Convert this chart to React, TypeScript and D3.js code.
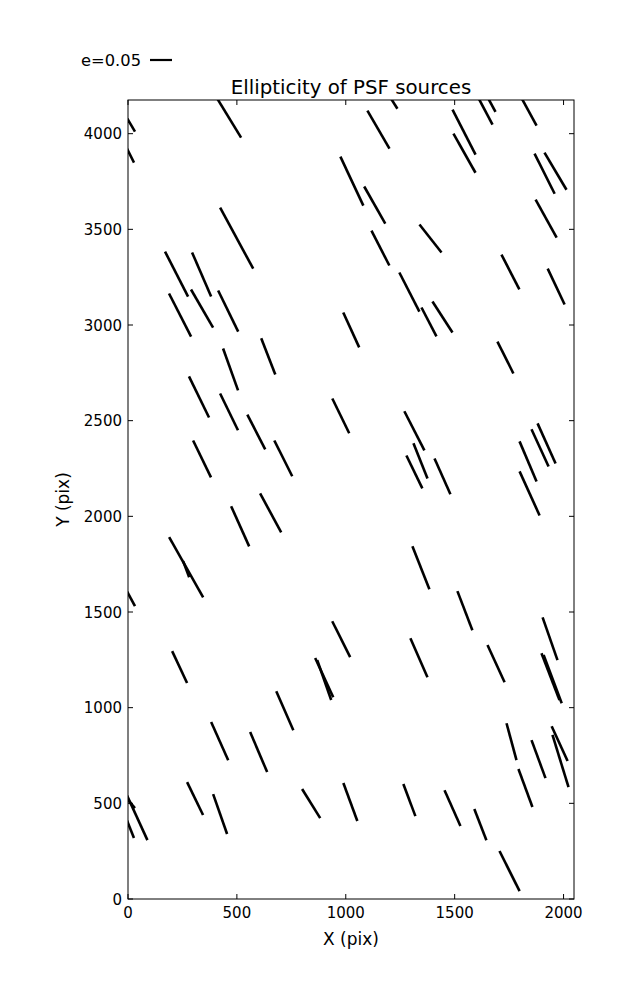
import React from "react";
import * as d3 from "d3";

// Whisker data: centre (X, Y in pix), ellipticity E, position angle THETA (deg, display frame)
const X = [0, 0, 462, 499, 223, 338, 239, 340, 460, 1214, 1150, 1028, 1133, 1389, 1159, 1292, 1543, 1545, 1635, 1660, 1835, 1913, 1963, 1920, 1756, 1966, 644, 471, 326, 464, 589, 340, 713, 655, 1025, 977, 1382, 1444, 1315, 1343, 1315, 1444, 1733, 1837, 1892, 1922, 1844, 267, 267, 515, 0, 237, 1345, 979, 1336, 901, 901, 720, 1547, 1938, 1690, 1940, 1950, 421, 600, 308, 423, 41, 0, 0, 841, 1021, 1292, 1761, 1885, 1982, 1986, 1825, 1490, 1618, 1752];
const Y = [4073, 3911, 4086, 3454, 3266, 3264, 3052, 3086, 3073, 4172, 4021, 3752, 3627, 3452, 3402, 3172, 4008, 3898, 4131, 4172, 4128, 3791, 3804, 3556, 3277, 3201, 2836, 2768, 2624, 2546, 2441, 2300, 2303, 2018, 2974, 2525, 3016, 3042, 2447, 2290, 2232, 2209, 2830, 2287, 2358, 2381, 2120, 1734, 1724, 1948, 1598, 1212, 1731, 1358, 1261, 1157, 1144, 984, 1507, 1360, 1230, 1162, 1149, 825, 768, 525, 444, 428, 517, 397, 499, 507, 517, 822, 731, 812, 721, 580, 475, 389, 146];
const E = [0.063, 0.061, 0.109, 0.158, 0.115, 0.109, 0.110, 0.100, 0.104, 0.043, 0.100, 0.123, 0.097, 0.081, 0.089, 0.100, 0.115, 0.102, 0.082, 0.057, 0.085, 0.102, 0.098, 0.099, 0.089, 0.090, 0.088, 0.101, 0.104, 0.093, 0.089, 0.093, 0.091, 0.101, 0.087, 0.088, 0.074, 0.084, 0.100, 0.086, 0.083, 0.089, 0.081, 0.099, 0.093, 0.100, 0.110, 0.157, 0.039, 0.100, 0.067, 0.080, 0.105, 0.091, 0.097, 0.098, 0.096, 0.097, 0.095, 0.103, 0.093, 0.114, 0.117, 0.095, 0.099, 0.083, 0.096, 0.115, 0.048, 0.073, 0.078, 0.092, 0.078, 0.087, 0.092, 0.087, 0.124, 0.092, 0.089, 0.076, 0.102];
const THETA = [-59.7, -63.4, -58.6, -61.6, -62.9, -66.6, -62.9, -59.9, -64.0, -58.0, -59.9, -64.9, -60.4, -51.8, -62.8, -62.9, -62.9, -60.6, -62.0, -61.4, -61.4, -63.4, -59.3, -61.1, -62.8, -64.7, -68.7, -70.3, -64.0, -64.1, -62.8, -64.1, -63.4, -61.7, -65.4, -64.1, -62.6, -57.2, -62.9, -68.2, -64.1, -66.0, -63.4, -67.0, -65.3, -65.8, -65.6, -60.5, -69.4, -65.8, -61.7, -64.9, -68.4, -63.4, -66.4, -65.2, -70.7, -66.4, -69.0, -70.8, -65.3, -69.0, -69.4, -65.9, -67.0, -64.1, -70.7, -65.5, -48.8, -68.2, -58.2, -69.8, -69.4, -74.9, -69.8, -65.4, -72.9, -69.8, -66.0, -68.8, -63.4];

const X_TICKS = [0, 500, 1000, 1500, 2000];
const Y_TICKS = [0, 500, 1000, 1500, 2000, 2500, 3000, 3500, 4000];
const KEY_E = 0.05;
const KEY_LABEL = "e=0.05";
const TITLE = "Ellipticity of PSF sources";
const X_LABEL = "X (pix)";
const Y_LABEL = "Y (pix)";

export default function App() {
  const W = 637, H = 1000;
  const L = 128, R = 574, T = 100, B = 899;
  const x = d3.scaleLinear().domain([0, 2048]).range([L, R]);
  const y = d3.scaleLinear().domain([0, 4176]).range([B, T]);
  const keyPx = 22;
  const pxPerE = keyPx / KEY_E;
  const font = "DejaVu Sans, sans-serif";
  const tick = 5;

  const segs = X.map((xv, i) => {
    const cx = x(xv), cy = y(Y[i]);
    const half = (E[i] * pxPerE) / 2;
    const a = (THETA[i] * Math.PI) / 180;
    const dx = half * Math.cos(a), dy = -half * Math.sin(a);
    return { x1: cx - dx, y1: cy - dy, x2: cx + dx, y2: cy + dy };
  });

  return (
    <svg width={W} height={H} style={{ position: "absolute", left: 0, top: 0, background: "#fff" }}>
      <defs>
        <clipPath id="plotclip">
          <rect x={L} y={T} width={R - L} height={B - T} />
        </clipPath>
      </defs>
      <rect x={0} y={0} width={W} height={H} fill="#fff" />
      <g clipPath="url(#plotclip)">
        {segs.map((s, i) => (
          <line key={i} x1={s.x1} y1={s.y1} x2={s.x2} y2={s.y2} stroke="#000" strokeWidth={2.6} />
        ))}
      </g>
      <rect x={L} y={T} width={R - L} height={B - T} fill="none" stroke="#000" strokeWidth={1} />
      {X_TICKS.map((t) => (
        <g key={"x" + t}>
          <line x1={x(t)} x2={x(t)} y1={B} y2={B - tick} stroke="#000" />
          <line x1={x(t)} x2={x(t)} y1={T} y2={T + tick} stroke="#000" />
          <text x={x(t)} y={B + 19} textAnchor="middle" fontFamily={font} fontSize={15}>{t}</text>
        </g>
      ))}
      {Y_TICKS.map((t) => (
        <g key={"y" + t}>
          <line x1={L} x2={L + tick} y1={y(t)} y2={y(t)} stroke="#000" />
          <line x1={R} x2={R - tick} y1={y(t)} y2={y(t)} stroke="#000" />
          <text x={L - 6} y={y(t) + 5.5} textAnchor="end" fontFamily={font} fontSize={15}>{t}</text>
        </g>
      ))}
      <text x={(L + R) / 2} y={945} textAnchor="middle" fontFamily={font} fontSize={17}>{X_LABEL}</text>
      <text transform={`translate(69,${(T + B) / 2}) rotate(-90)`} textAnchor="middle" fontFamily={font} fontSize={17}>{Y_LABEL}</text>
      <text x={(L + R) / 2} y={94} textAnchor="middle" fontFamily={font} fontSize={19.8}>{TITLE}</text>
      <line x1={150} x2={150 + keyPx} y1={60} y2={60} stroke="#000" strokeWidth={2.2} />
      <text x={141} y={66} textAnchor="end" fontFamily={font} fontSize={16.3}>{KEY_LABEL}</text>
    </svg>
  );
}
